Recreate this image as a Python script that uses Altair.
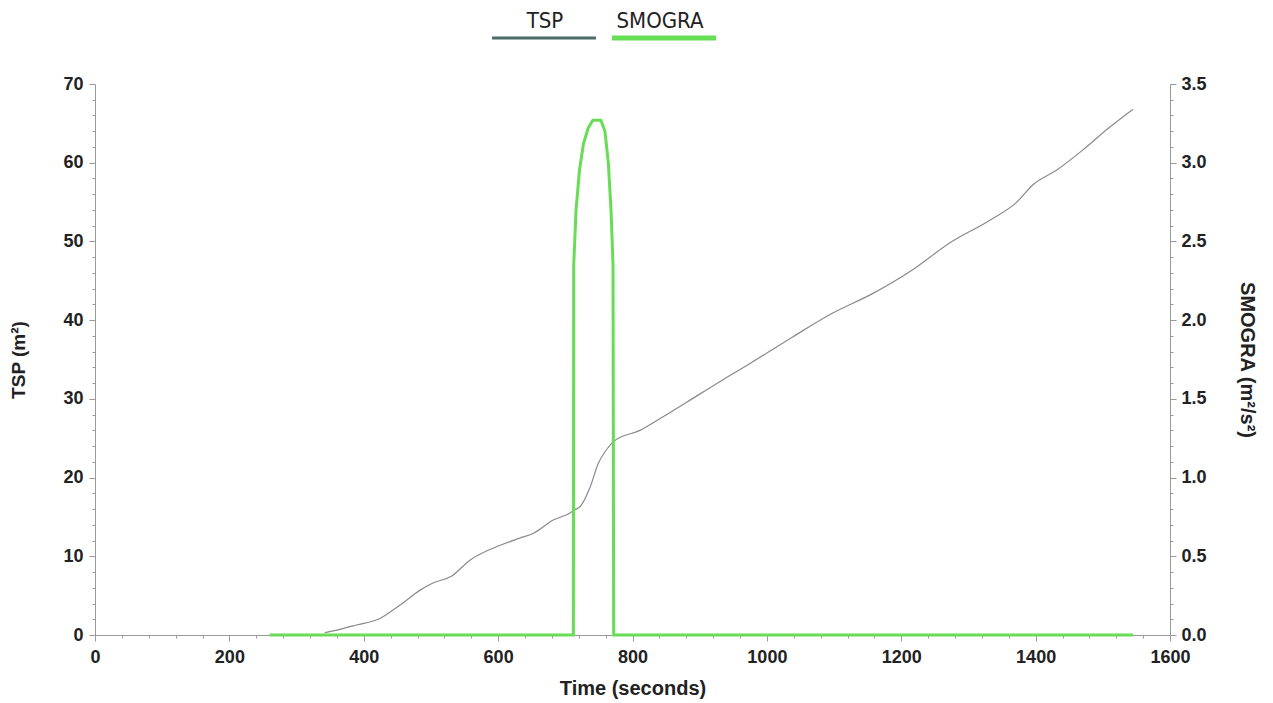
import altair as alt
import pandas as pd

# --- data ---
tsp_time = [342, 360, 389, 424, 454, 484, 503, 531, 558, 603, 632, 652, 682, 707, 714,
            722, 737, 749, 761, 772, 811, 841, 900, 940, 975, 1039, 1098, 1158, 1217,
            1272, 1332, 1372, 1396, 1432, 1470, 1510, 1545]
tsp_value = [0.3, 0.63, 1.27, 2.1, 3.8, 5.7, 6.6, 7.5, 9.5, 11.4, 12.3, 12.9, 14.6, 15.5, 15.9,
             16.3, 18.8, 21.8, 23.5, 24.6, 26.0, 27.5, 30.6, 32.7, 34.5, 37.9, 40.9, 43.4, 46.4,
             49.8, 52.7, 55.0, 57.2, 59.1, 61.6, 64.5, 66.8]

smogra_time = [260, 712, 712.5, 716, 721, 727, 734, 741, 753, 759, 764, 768, 771, 772, 1545]
smogra_value = [0.0, 0.0, 2.35, 2.7, 2.95, 3.12, 3.22, 3.27, 3.27, 3.2, 3.0, 2.7, 2.35, 0.0, 0.0]

x_ticks = list(range(0, 1601, 40))
tsp_ticks = list(range(0, 71, 2))
smogra_ticks = [round(i * 0.1, 1) for i in range(0, 36)]

legend_names = ["TSP", "SMOGRA"]
legend_colors = ["#4b6b66", "#66dd55"]

FONT = "Liberation Sans"
AXIS_GRAY = "#9a9a9a"
TEXT = "#222222"

tsp_df = pd.DataFrame({"t": tsp_time, "v": tsp_value})
smo_df = pd.DataFrame({"t": smogra_time, "v": smogra_value})


def x_enc():
    return alt.X(
        "t:Q",
        scale=alt.Scale(domain=[0, 1600], nice=False, zero=False),
        axis=alt.Axis(
            title="Time (seconds)",
            values=x_ticks,
            labelExpr="datum.value % 200 === 0 ? datum.label : ''",
            format="d",
            tickSize={"condition": {"test": "datum.value % 200 === 0", "value": 6}, "value": 3},
            grid=False,
            domainColor=AXIS_GRAY,
            tickColor=AXIS_GRAY,
            labelFont=FONT, labelFontWeight="bold", labelFontSize=18, labelColor=TEXT,
            labelPadding=7,
            titleFont=FONT, titleFontWeight="bold", titleFontSize=20, titleColor=TEXT,
            titlePadding=12,
            labelFlush=False,
            labelOverlap=False,
        ),
    )


tsp_line = alt.Chart(tsp_df).mark_line(
    color="#8a8a8a", strokeWidth=1.2, interpolate="monotone"
).encode(
    x=x_enc(),
    y=alt.Y(
        "v:Q",
        scale=alt.Scale(domain=[0, 70], nice=False),
        axis=alt.Axis(
            title="TSP (m²)",
            orient="left",
            values=tsp_ticks,
            labelExpr="datum.value % 10 === 0 ? datum.label : ''",
            tickSize={"condition": {"test": "datum.value % 10 === 0", "value": 6}, "value": 3},
            grid=False,
            domainColor=AXIS_GRAY,
            tickColor=AXIS_GRAY,
            labelFont=FONT, labelFontWeight="bold", labelFontSize=18, labelColor=TEXT,
            labelPadding=6,
            titleFont=FONT, titleFontWeight="bold", titleFontSize=19, titleColor=TEXT,
            titlePadding=34,
            labelOverlap=False,
            labelFlush=False,
        ),
    ),
)

smo_line = alt.Chart(smo_df).mark_line(color="#66dd55", strokeWidth=3).encode(
    x=x_enc(),
    y=alt.Y(
        "v:Q",
        scale=alt.Scale(domain=[0, 3.5], nice=False),
        axis=alt.Axis(
            title="SMOGRA (m²/s²)",
            orient="right",
            values=smogra_ticks,
            format=".1f",
            labelExpr="abs(datum.value*2 - round(datum.value*2)) < 1e-6 ? datum.label : ''",
            tickSize={"condition": {"test": "abs(datum.value*2 - round(datum.value*2)) < 1e-6", "value": 6}, "value": 3},
            grid=False,
            domainColor=AXIS_GRAY,
            tickColor=AXIS_GRAY,
            labelFont=FONT, labelFontWeight="bold", labelFontSize=18, labelColor=TEXT,
            labelPadding=5,
            titleFont=FONT, titleFontWeight="bold", titleFontSize=20, titleColor=TEXT,
            titlePadding=30,
            titleAngle=90,
            labelOverlap=False,
            labelFlush=False,
        ),
    ),
)

# custom legend above the plot: label above a line sample
leg_df = pd.DataFrame({"name": legend_names, "color": legend_colors})
leg_pos = {"TSP": (397, 501, 450), "SMOGRA": (517, 621, 565)}
leg_df["x1"] = [leg_pos[n][0] for n in legend_names]
leg_df["x2"] = [leg_pos[n][1] for n in legend_names]
leg_df["xc"] = [leg_pos[n][2] for n in legend_names]
leg_df["w"] = [3, 5]

leg_rule = alt.Chart(leg_df).mark_rule().encode(
    x=alt.X("x1:Q", scale=None, axis=None),
    x2="x2:Q",
    y=alt.value(-46),
    color=alt.Color("color:N", scale=None, legend=None),
    strokeWidth=alt.StrokeWidth("w:Q", scale=None, legend=None),
)
leg_text = alt.Chart(leg_df).mark_text(
    font="Liberation Sans Narrow, DejaVu Sans Condensed, Liberation Sans",
    fontSize=22, color=TEXT, baseline="alphabetic", align="center",
).encode(
    x=alt.X("xc:Q", scale=None, axis=None),
    y=alt.value(-56),
    text="name:N",
)

chart = (
    alt.layer(tsp_line, smo_line)
    .resolve_scale(y="independent")
)
chart = alt.layer(chart, leg_rule, leg_text).properties(
    width=1075,
    height=551,
    background="white",
    autosize=alt.AutoSizeParams(type="none"),
    padding={"left": 87, "top": 76, "right": 92, "bottom": 66},
).configure_view(stroke="transparent", strokeWidth=0)

chart.save("out.html", embed_options={"renderer": "svg", "actions": False})
